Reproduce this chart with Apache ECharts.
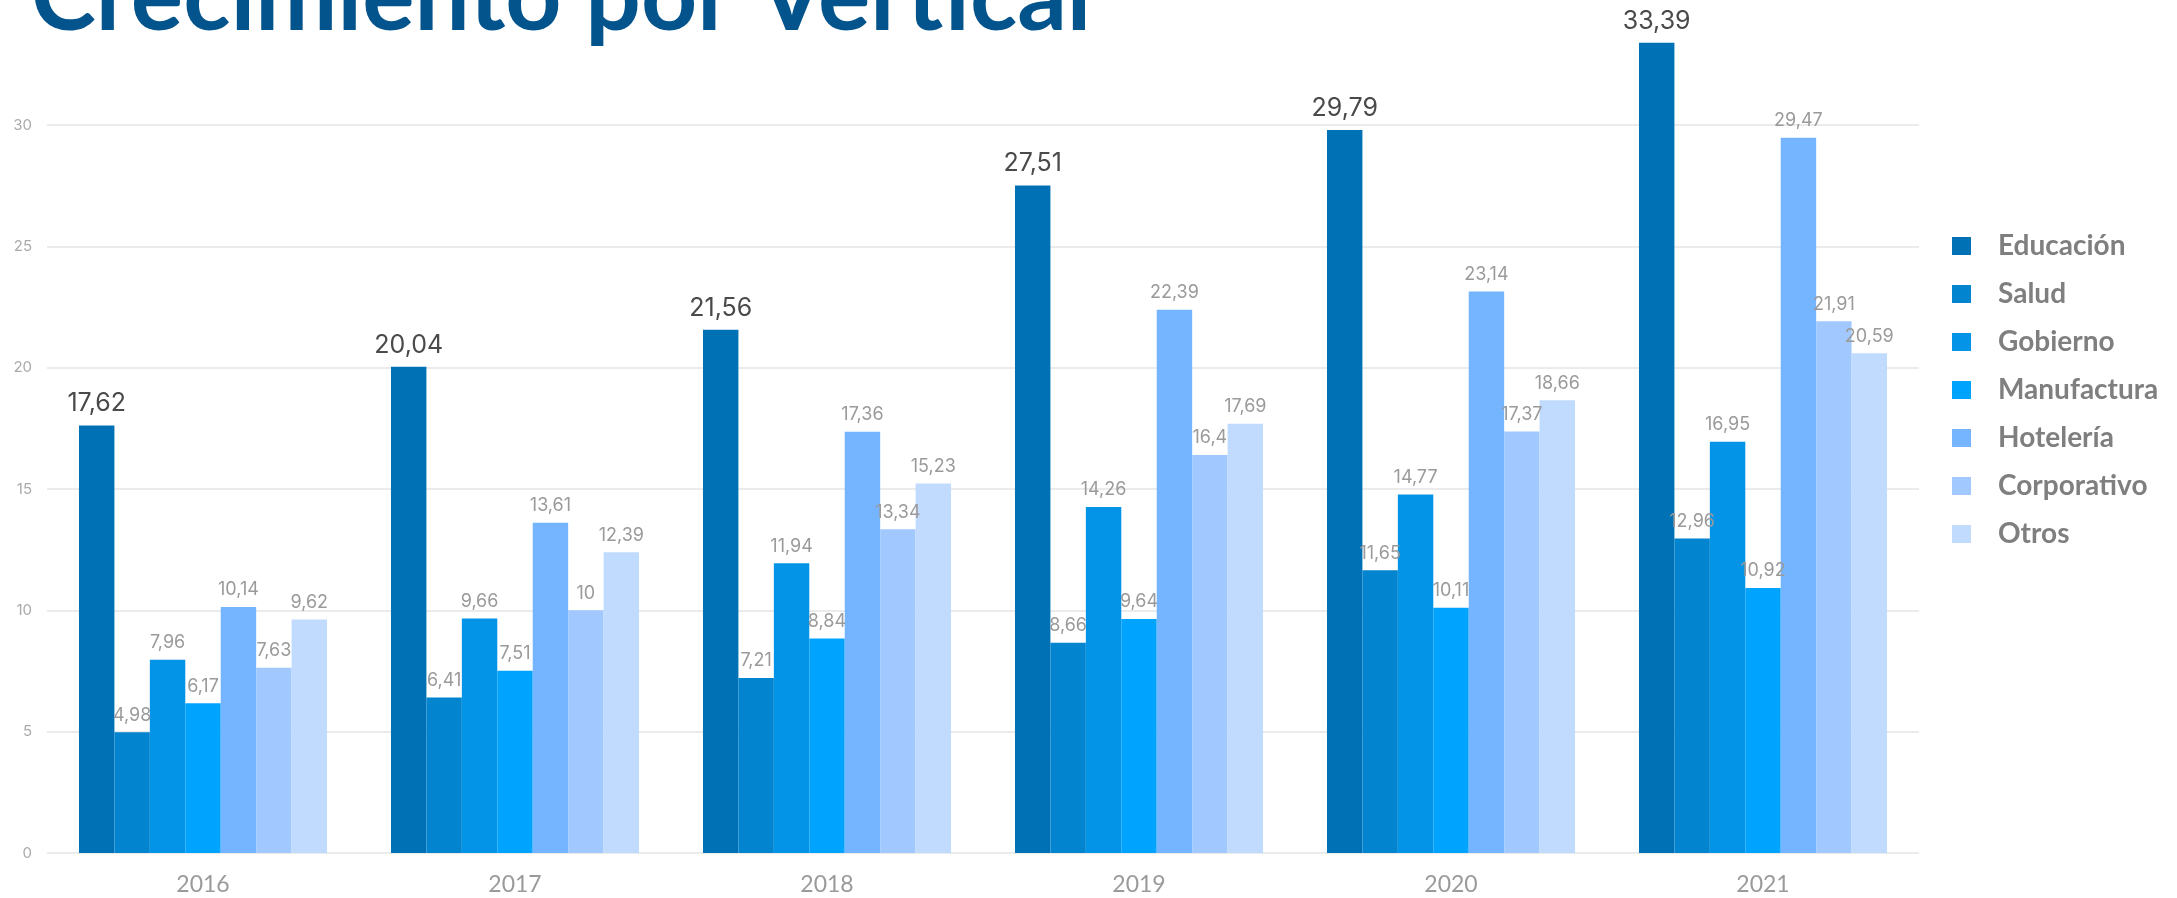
<!DOCTYPE html>
<html>
<head>
<meta charset="utf-8">
<script src="https://cdn.jsdelivr.net/npm/echarts@6/dist/echarts.min.js"></script>
<style>html,body{margin:0;padding:0;background:#fff;}#c{width:2177px;height:898px;}</style>
</head>
<body>
<div id="c"></div>
<script>
const categories = ['2016', '2017', '2018', '2019', '2020', '2021'];
const seriesNames = ['Educación', 'Salud', 'Gobierno', 'Manufactura', 'Hotelería', 'Corporativo', 'Otros'];
const educacion = [17.62, 20.04, 21.56, 27.51, 29.79, 33.39];
const salud = [4.98, 6.41, 7.21, 8.66, 11.65, 12.96];
const gobierno = [7.96, 9.66, 11.94, 14.26, 14.77, 16.95];
const manufactura = [6.17, 7.51, 8.84, 9.64, 10.11, 10.92];
const hoteleria = [10.14, 13.61, 17.36, 22.39, 23.14, 29.47];
const corporativo = [7.63, 10, 13.34, 16.4, 17.37, 21.91];
const otros = [9.62, 12.39, 15.23, 17.69, 18.66, 20.59];
const yTicks = [0, 5, 10, 15, 20, 25, 30];

const seriesData = [educacion, salud, gobierno, manufactura, hoteleria, corporativo, otros];
const colors = ['#0171B5', '#0284CF', '#0394E8', '#00A4FF', '#75B5FF', '#A2C9FF', '#C1DBFF'];

const chart = echarts.init(document.getElementById('c'), null, {renderer: 'canvas'});
const fmt = p => String(p.value).replace('.', ',');

chart.setOption({
  animation: false,
  color: colors,
  title: {
    text: 'Crecimiento por Vertical',
    left: 26,
    top: -56,
    textStyle: {fontFamily: 'Lato', fontWeight: 'bold', fontSize: 98, color: '#03548C', lineHeight: 98}
  },
  legend: {
    orient: 'vertical',
    left: 1947,
    top: 227,
    itemWidth: 19,
    itemHeight: 18,
    itemGap: 20,
    icon: 'rect',
    data: seriesNames,
    textStyle: {fontFamily: 'Lato', fontWeight: 'bold', fontSize: 28, lineHeight: 28, color: '#7F7F7F', padding: [0, 0, 0, 22]}
  },
  grid: {left: 47, right: 258, top: 125, bottom: 45, containLabel: false},
  xAxis: {
    type: 'category',
    data: categories,
    axisLine: {show: false},
    axisTick: {show: false},
    axisLabel: {margin: 20, fontFamily: 'Lato', fontSize: 23, color: '#9A9A9A'}
  },
  yAxis: {
    type: 'value',
    min: yTicks[0],
    max: yTicks[yTicks.length - 1],
    interval: 5,
    axisLine: {show: false},
    axisTick: {show: false},
    axisLabel: {margin: 15, fontFamily: 'Inter', fontSize: 15, color: '#AAAAAA'},
    splitLine: {lineStyle: {color: '#EBEBEB', width: 2}}
  },
  series: seriesNames.map((name, i) => ({
    name: name,
    type: 'bar',
    data: seriesData[i],
    clip: false,
    barGap: '0%',
    barCategoryGap: '20.5%',
    itemStyle: {color: colors[i]},
    label: {
      show: true,
      position: 'top',
      distance: i === 0 ? 9 : 8,
      formatter: fmt,
      fontFamily: 'Inter',
      fontSize: i === 0 ? 25 : 18,
      color: i === 0 ? '#4A4A4A' : '#9A9A9A'
    }
  }))
});
</script>
</body>
</html>
